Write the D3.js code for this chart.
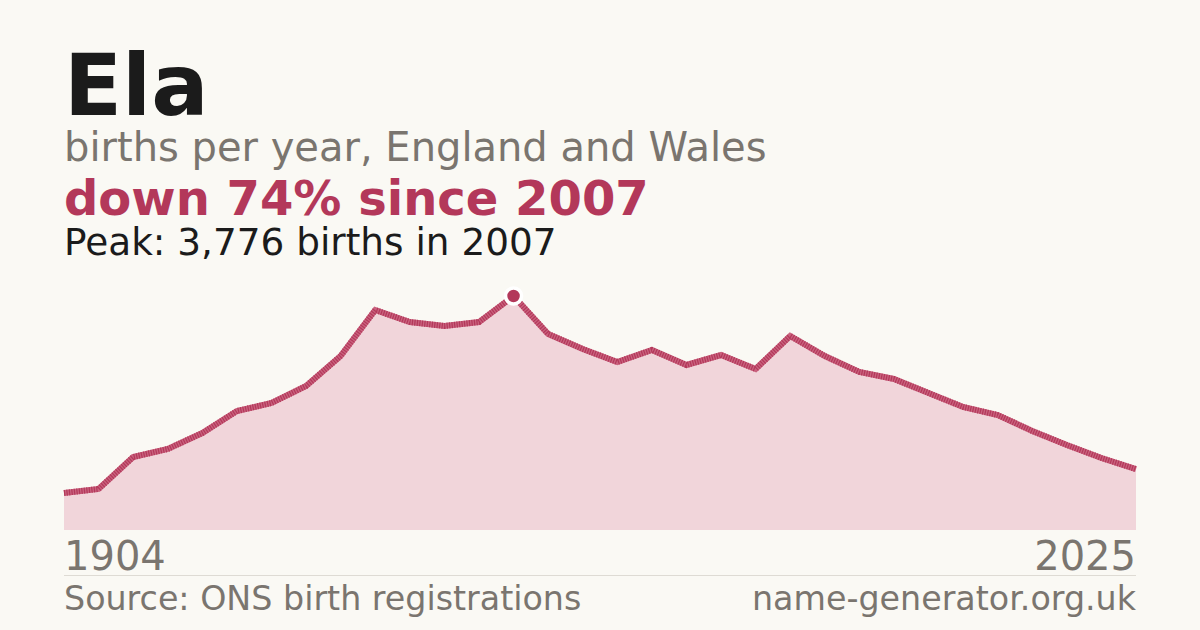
<!DOCTYPE html>
<html>
<head>
<meta charset="utf-8">
<script src="https://cdn.jsdelivr.net/npm/d3@7"></script>
<style>
  body { margin: 0; background: #faf9f4; }
  svg { display: block; font-family: "DejaVu Sans", sans-serif; }
</style>
</head>
<body>
<script>
// data
var years = [1994,1995,1996,1997,1998,1999,2000,2001,2002,2003,2004,2005,2006,2007,2008,2009,
             2010,2011,2012,2013,2014,2015,2016,2017,2018,2019,2020,2021,2022,2023,2024,2025];
var births = [597,662,1178,1307,1565,1920,2049,2324,2808,3550,3356,3292,3356,3776,3163,2921,
              2711,2905,2663,2824,2598,3131,2808,2550,2437,2211,1985,1856,1598,1372,1162,982];
var tickLabels = ["1904", "2025"];
var peakYear = 2007;

var W = 1200, H = 630;
var plotLeft = 64, plotRight = 1136, plotTop = 296, plotBottom = 530;

var svg = d3.select("body").append("svg")
  .attr("width", W)
  .attr("height", H);

svg.append("rect").attr("width", W).attr("height", H).attr("fill", "#faf9f4");

// header text
svg.append("text").attr("x", 64).attr("y", 115)
  .attr("font-size", 85).attr("font-weight", "bold").attr("fill", "#1b1b1b")
  .text("Ela");
svg.append("text").attr("x", 64).attr("y", 161)
  .attr("font-size", 40).attr("fill", "#7a756f")
  .text("births per year, England and Wales");
svg.append("text").attr("x", 64).attr("y", 215)
  .attr("font-size", 48).attr("font-weight", "bold").attr("fill", "#b3385a")
  .text("down 74% since 2007");
svg.append("text").attr("x", 64).attr("y", 255)
  .attr("font-size", 37.4).attr("fill", "#1b1b1b")
  .text("Peak: 3,776 births in 2007");

var x = d3.scalePoint().domain(years).range([plotLeft, plotRight]);
var y = d3.scaleLinear().domain([0, d3.max(births)]).range([plotBottom, plotTop]);

var pts = years.map(function(yr, i){ return {year: yr, v: births[i]}; });

var area = d3.area()
  .x(function(d){ return x(d.year); })
  .y0(plotBottom)
  .y1(function(d){ return y(d.v); });

var line = d3.line()
  .x(function(d){ return x(d.year); })
  .y(function(d){ return y(d.v); });

svg.append("path").datum(pts)
  .attr("d", area)
  .attr("fill", "#f1d5da");

// line drawn twice to get the striped look
svg.append("path").datum(pts)
  .attr("d", line)
  .attr("fill", "none")
  .attr("stroke", "#c9627e")
  .attr("stroke-width", 6);
svg.append("path").datum(pts)
  .attr("d", line)
  .attr("fill", "none")
  .attr("stroke", "#b3385a")
  .attr("stroke-width", 6)
  .attr("stroke-dasharray", "1.2 1.3");

// peak marker
var peak = pts.filter(function(d){ return d.year == peakYear; })[0];
svg.append("circle")
  .attr("cx", x(peak.year)).attr("cy", y(peak.v))
  .attr("r", 8)
  .attr("fill", "#b3385a")
  .attr("stroke", "#ffffff")
  .attr("stroke-width", 3.5);

// bottom labels
svg.append("text").attr("x", plotLeft).attr("y", 570)
  .attr("font-size", 40).attr("fill", "#7a756f")
  .text(tickLabels[0]);
svg.append("text").attr("x", plotRight).attr("y", 570)
  .attr("font-size", 40).attr("fill", "#7a756f").attr("text-anchor", "end")
  .text(tickLabels[1]);

svg.append("line")
  .attr("x1", plotLeft).attr("x2", plotRight).attr("y1", 575.5).attr("y2", 575.5)
  .attr("stroke", "#dedbd4").attr("stroke-width", 1);

svg.append("text").attr("x", plotLeft).attr("y", 610)
  .attr("font-size", 33.3).attr("fill", "#7a756f")
  .text("Source: ONS birth registrations");
svg.append("text").attr("x", plotRight).attr("y", 610)
  .attr("font-size", 33.3).attr("fill", "#7a756f").attr("text-anchor", "end")
  .text("name-generator.org.uk");
</script>
</body>
</html>
